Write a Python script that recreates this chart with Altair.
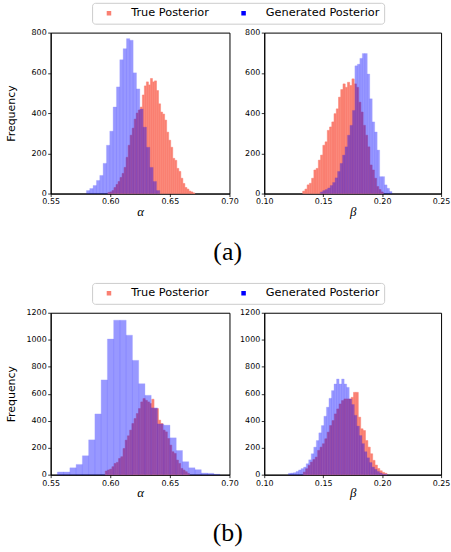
import altair as alt
import pandas as pd

TRUE_LABEL = "True Posterior"
GEN_LABEL = "Generated Posterior"
SERIES = [TRUE_LABEL, GEN_LABEL]
COLORS = ["#FA8072", "#0000FF"]

# ---- (a) alpha ----
A_ALPHA_TRUE_START, A_ALPHA_TRUE_WIDTH = 0.5980, 0.0017
A_ALPHA_TRUE = [5, 8, 15, 30, 45, 60, 80, 100, 130, 180, 240, 290, 325, 370, 400, 415,
                430, 490, 535, 555, 540, 572, 555, 560, 512, 446, 405, 395, 365, 305,
                265, 230, 175, 165, 125, 110, 76, 50, 30, 22, 12, 8, 3]
A_ALPHA_GEN_START, A_ALPHA_GEN_WIDTH = 0.5800, 0.0028
A_ALPHA_GEN = [15, 25, 40, 65, 90, 150, 240, 310, 430, 530, 665, 720, 770, 762, 600,
               520, 420, 330, 230, 130, 60, 15]

# ---- (a) beta ----
A_BETA_TRUE_START, A_BETA_TRUE_WIDTH = 0.1326, 0.0019
A_BETA_TRUE = [12, 22, 43, 51, 76, 117, 125, 166, 191, 240, 257, 314, 331, 356, 397,
               421, 479, 517, 545, 528, 553, 537, 570, 545, 528, 454, 405, 339, 290,
               232, 142, 117, 76, 35, 20, 8]
A_BETA_GEN_START, A_BETA_GEN_WIDTH = 0.1475, 0.0021
A_BETA_GEN = [8, 15, 20, 28, 40, 55, 78, 110, 150, 191, 232, 290, 339, 413, 635, 643,
              672, 696, 696, 594, 471, 356, 306, 216, 84, 84, 43, 26, 10]

# ---- (b) alpha ----
B_ALPHA_TRUE_START, B_ALPHA_TRUE_WIDTH = 0.5958, 0.00186
B_ALPHA_TRUE = [27, 35, 41, 59, 83, 91, 120, 133, 194, 256, 288, 330, 379, 416, 453,
                490, 539, 564, 551, 539, 527, 559, 490, 490, 404, 379, 330, 317, 268,
                219, 170, 157, 108, 83, 46, 34, 22, 9]
B_ALPHA_GEN_START, B_ALPHA_GEN_WIDTH = 0.5556, 0.00525
B_ALPHA_GEN = [20, 20, 51, 76, 140, 258, 450, 702, 1005, 1145, 1145, 1034, 847, 674,
               588, 495, 376, 367, 273, 179, 96, 51, 37, 12, 10, 3]

# ---- (b) beta ----
B_BETA_TRUE_START, B_BETA_TRUE_WIDTH = 0.1331, 0.00203
B_BETA_TRUE = [19, 44, 69, 93, 112, 130, 180, 204, 229, 266, 315, 364, 401, 450, 487,
               524, 549, 561, 561, 561, 573, 610, 610, 426, 340, 327, 253, 204, 155,
               106, 71, 46, 29, 17, 10]
B_BETA_GEN_START, B_BETA_GEN_WIDTH = 0.1205, 0.00215
B_BETA_GEN = [10, 12, 15, 24, 35, 45, 56, 81, 110, 155, 204, 253, 310, 364, 433, 500,
              566, 623, 672, 709, 672, 709, 672, 647, 561, 520, 440, 360, 290, 230,
              170, 125, 90, 56, 40, 24, 12, 5, 5]

ALPHA_TICKS = [0.55, 0.60, 0.65, 0.70]
BETA_TICKS = [0.10, 0.15, 0.20, 0.25]
A_Y_TICKS = [0, 200, 400, 600, 800]
B_Y_TICKS = [0, 200, 400, 600, 800, 1000, 1200]


def hist_frame(start, width, counts, series):
    n = len(counts)
    return pd.DataFrame({
        "lo": [start + i * width for i in range(n)],
        "hi": [start + (i + 1) * width for i in range(n)],
        "count": counts,
        "series": [series] * n,
    })


SQUARE = "M-0.18,-0.18H0.18V0.18H-0.18Z"

LEGEND = alt.Legend(
    title=None, orient="none", legendX=41.7, legendY=-30, direction="horizontal",
    columns=2, symbolType=SQUARE, symbolSize=635, symbolStrokeWidth=0,
    symbolOpacity=1, labelFont="DejaVu Sans", labelFontSize=11.4, labelColor="black",
    labelOffset=9.4, columnPadding=21.5, padding=4, strokeColor="#cccccc",
    cornerRadius=3, fillColor="white", clipHeight=12.5, labelLimit=300,
)


def panel(true_df, gen_df, xdomain, xticks, xtitle, ymax, yticks, width, height, left):
    color = alt.Color("series:N", scale=alt.Scale(domain=SERIES, range=COLORS),
                      legend=LEGEND if left else None)
    xaxis = alt.Axis(values=xticks, format=".2f", title=xtitle, titleFont="Liberation Serif",
                     titleFontStyle="italic", titleFontSize=13, titleY=22,
                     titleBaseline="alphabetic", labelFlush=False, labelOverlap=False)
    if left:
        yaxis = alt.Axis(values=yticks, format="d", title="Frequency", titleX=-36.5,
                         titleBaseline="alphabetic", labelFlush=False, labelOverlap=False)
    else:
        yaxis = alt.Axis(values=yticks, format="d", title=None, labelFlush=False,
                         labelOverlap=False)
    x = alt.X("lo:Q", scale=alt.Scale(domain=xdomain, nice=False, zero=False), axis=xaxis)
    y = alt.Y("count:Q", scale=alt.Scale(domain=[0, ymax], nice=False), axis=yaxis)
    red = alt.Chart(true_df).mark_bar(opacity=1, stroke=COLORS[0], strokeWidth=0.5).encode(
        x=x, x2="hi:Q", y=y, y2=alt.datum(0), color=color)
    blue = alt.Chart(gen_df).mark_bar(opacity=0.4, stroke=COLORS[1], strokeWidth=0.3).encode(
        x=x, x2="hi:Q", y=y, y2=alt.datum(0), color=color)
    return alt.layer(red, blue).properties(width=width, height=height)


tl = panel(hist_frame(A_ALPHA_TRUE_START, A_ALPHA_TRUE_WIDTH, A_ALPHA_TRUE, TRUE_LABEL),
           hist_frame(A_ALPHA_GEN_START, A_ALPHA_GEN_WIDTH, A_ALPHA_GEN, GEN_LABEL),
           [0.55, 0.70], ALPHA_TICKS, "α", 800, A_Y_TICKS, 180, 162, True)
tr = panel(hist_frame(A_BETA_TRUE_START, A_BETA_TRUE_WIDTH, A_BETA_TRUE, TRUE_LABEL),
           hist_frame(A_BETA_GEN_START, A_BETA_GEN_WIDTH, A_BETA_GEN, GEN_LABEL),
           [0.10, 0.25], BETA_TICKS, "β", 800, A_Y_TICKS, 178, 162, False)
bl = panel(hist_frame(B_ALPHA_TRUE_START, B_ALPHA_TRUE_WIDTH, B_ALPHA_TRUE, TRUE_LABEL),
           hist_frame(B_ALPHA_GEN_START, B_ALPHA_GEN_WIDTH, B_ALPHA_GEN, GEN_LABEL),
           [0.55, 0.70], ALPHA_TICKS, "α", 1200, B_Y_TICKS, 180, 163, True)
br = panel(hist_frame(B_BETA_TRUE_START, B_BETA_TRUE_WIDTH, B_BETA_TRUE, TRUE_LABEL),
           hist_frame(B_BETA_GEN_START, B_BETA_GEN_WIDTH, B_BETA_GEN, GEN_LABEL),
           [0.10, 0.25], BETA_TICKS, "β", 1200, B_Y_TICKS, 178, 163, False)


def caption(text):
    return alt.TitleParams(text=text, orient="bottom", anchor="middle",
                           font="Liberation Serif", fontSize=26, fontWeight="normal",
                           color="black", offset=20)


row_a = alt.hconcat(tl, tr, spacing=35, bounds="flush", title=caption("(a)")).resolve_scale(
    color="independent").resolve_legend(color="independent")
row_b = alt.hconcat(bl, br, spacing=35, bounds="flush", title=caption("(b)")).resolve_scale(
    color="independent").resolve_legend(color="independent")

chart = alt.vconcat(row_a, row_b, spacing=17).resolve_scale(
    color="independent").resolve_legend(color="independent").properties(
    padding={"left": 5, "top": 0, "right": 0, "bottom": 0}
).configure(background="white").configure_view(
    stroke="black", strokeWidth=1
).configure_axis(
    labelFont="DejaVu Sans", labelFontSize=8, labelColor="black", tickColor="black",
    tickSize=3, tickWidth=0.8, domainColor="black", domainWidth=1, grid=False,
    labelPadding=1.5, titleFont="DejaVu Sans", titleFontSize=11, titleFontWeight="normal",
    titleColor="black"
).configure_legend(strokeWidth=1)

chart.save("out.html", embed_options={"renderer": "svg", "actions": False})
